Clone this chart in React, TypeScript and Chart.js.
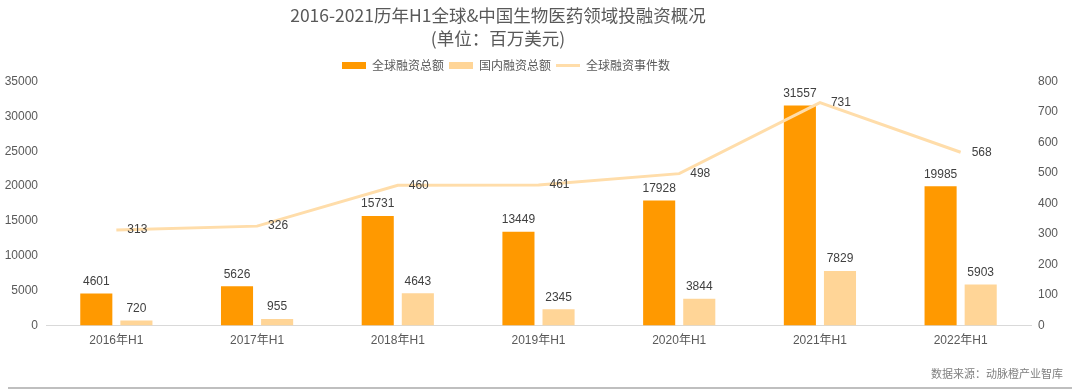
import React, { useEffect, useRef } from "react";
import { Chart, registerables } from "chart.js";

Chart.register(...registerables);

const categories = ["2016年H1", "2017年H1", "2018年H1", "2019年H1", "2020年H1", "2021年H1", "2022年H1"];
const globalAmount = [4601, 5626, 15731, 13449, 17928, 31557, 19985];
const domesticAmount = [720, 955, 4643, 2345, 3844, 7829, 5903];
const globalEvents = [313, 326, 460, 461, 498, 731, 568];

const titleLines = ["2016-2021历年H1全球&中国生物医药领域投融资概况", "(单位：百万美元)"];
const seriesNames = ["全球融资总额", "国内融资总额", "全球融资事件数"];
const sourceText = "数据来源：动脉橙产业智库";

const ORANGE = "#FF9900";
const LIGHT = "#FFD597";
const LINE = "#FFDDAA";
const FONT = '"Liberation Sans", "Noto Sans CJK SC", Arial, sans-serif';
const CJK = '"Noto Sans CJK SC", "Liberation Sans", sans-serif';

const shiftPlugin = {
  id: "shiftBlocks",
  afterLayout(chart: any) {
    const t = chart.titleBlock;
    if (t) {
      t.left -= 42;
      t.right -= 42;
    }
    const l = chart.legend;
    if (l) {
      l.left -= 34;
      l.right -= 34;
    }
  },
};

const labelPlugin = {
  id: "valueLabels",
  afterDatasetsDraw(chart: any) {
    const ctx = chart.ctx;
    ctx.save();
    ctx.font = "12px " + FONT;
    ctx.fillStyle = "#404040";
    ctx.textBaseline = "middle";
    ctx.textAlign = "center";
    chart.data.datasets.forEach((ds: any, di: number) => {
      const meta = chart.getDatasetMeta(di);
      meta.data.forEach((el: any, i: number) => {
        const v = ds.data[i];
        if (meta.type === "bar") {
          ctx.fillText(String(v), el.x, el.y - 12);
        } else {
          ctx.fillText(String(v), el.x + 21, el.y);
        }
      });
    });
    ctx.restore();
  },
};

const plain = (v: any) => String(v);

export default function App() {
  const ref = useRef<HTMLCanvasElement | null>(null);

  useEffect(() => {
    document.body.style.margin = "0";
    const canvas = ref.current;
    if (!canvas) return;
    const chart = new Chart(canvas, {
      type: "bar",
      data: {
        labels: categories,
        datasets: [
          {
            type: "bar",
            label: seriesNames[0],
            data: globalAmount,
            backgroundColor: ORANGE,
            borderWidth: 0,
            yAxisID: "y",
            order: 1,
            barPercentage: 0.8,
            categoryPercentage: 0.57,
          },
          {
            type: "bar",
            label: seriesNames[1],
            data: domesticAmount,
            backgroundColor: LIGHT,
            borderWidth: 0,
            yAxisID: "y",
            order: 1,
            barPercentage: 0.8,
            categoryPercentage: 0.57,
          },
          {
            type: "line",
            label: seriesNames[2],
            data: globalEvents,
            borderColor: LINE,
            backgroundColor: LINE,
            borderWidth: 3,
            pointRadius: 0,
            tension: 0,
            yAxisID: "y1",
            order: 0,
          } as any,
        ],
      },
      options: {
        responsive: false,
        animation: false,
        events: [],
        layout: { padding: { left: 0, right: 0, top: 0, bottom: 36 } },
        plugins: {
          tooltip: { enabled: false },
          title: {
            display: true,
            text: titleLines,
            color: "#595959",
            font: { family: CJK, size: 17.5, weight: "normal", lineHeight: 1.3 },
            padding: { top: 4, bottom: 5 },
          },
          legend: {
            display: true,
            position: "top",
            labels: {
              usePointStyle: true,
              pointStyleWidth: 24,
              boxWidth: 24,
              boxHeight: 7,
              padding: 5,
              color: "#595959",
              font: { family: CJK, size: 12 },
              sort: (a: any, b: any) => a.datasetIndex - b.datasetIndex,
              generateLabels: (c: any) => {
                const items = (Chart.defaults.plugins.legend.labels as any).generateLabels(c);
                items.forEach((it: any) => {
                  if (it.datasetIndex === 2) {
                    it.pointStyle = "line";
                    it.lineWidth = 3;
                    it.strokeStyle = LINE;
                  } else {
                    it.pointStyle = "rect";
                    it.lineWidth = 0;
                  }
                });
                return items;
              },
            },
          },
        },
        scales: {
          x: {
            grid: { display: false, drawTicks: false },
            border: { display: true, color: "#D9D9D9", width: 1 },
            ticks: { color: "#595959", font: { family: FONT, size: 12 }, padding: 8 },
          },
          y: {
            position: "left",
            min: 0,
            max: 35000,
            grid: { display: false, drawTicks: false },
            border: { display: false },
            ticks: { stepSize: 5000, color: "#595959", font: { family: FONT, size: 12 }, padding: 8, callback: plain },
            afterFit: (s: any) => {
              s.width = 46;
            },
          },
          y1: {
            position: "right",
            min: 0,
            max: 800,
            grid: { display: false, drawTicks: false },
            border: { display: false },
            ticks: { stepSize: 100, color: "#595959", font: { family: FONT, size: 12 }, padding: 7, callback: plain },
            afterFit: (s: any) => {
              s.width = 49;
            },
          },
        },
      } as any,
      plugins: [shiftPlugin, labelPlugin],
    });
    return () => chart.destroy();
  }, []);

  return (
    <div style={{ position: "absolute", left: 0, top: 0, width: 1080, height: 392, background: "#fff" }}>
      <canvas ref={ref} width={1080} height={392} style={{ width: 1080, height: 392, display: "block" }} />
      <div
        style={{
          position: "absolute",
          right: 17,
          top: 365,
          fontFamily: CJK,
          fontSize: 11,
          lineHeight: "16px",
          color: "#7F7F7F",
        }}
      >
        {sourceText}
      </div>
      <div
        style={{
          position: "absolute",
          left: 8,
          width: 1064,
          top: 387,
          height: 2,
          background: "#BFBFBF",
        }}
      />
    </div>
  );
}
